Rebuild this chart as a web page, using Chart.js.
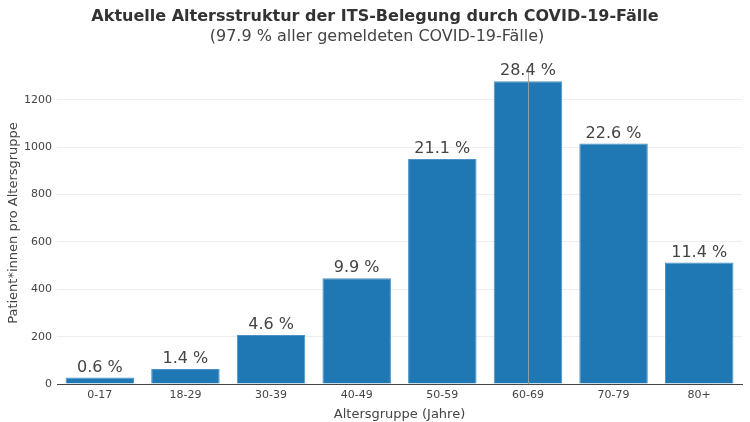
<!DOCTYPE html>
<html>
<head>
<meta charset="utf-8">
<script src="https://cdn.jsdelivr.net/npm/chart.js@4/dist/chart.umd.min.js"></script>
<style>
html,body{margin:0;padding:0;background:#fff;}
#wrap{width:750px;height:422px;}
</style>
</head>
<body>
<div id="wrap"><canvas id="c" width="750" height="422"></canvas></div>
<script>
const categories = ["0-17","18-29","30-39","40-49","50-59","60-69","70-79","80+"];
const patients = [27, 63, 207, 447, 950, 1279, 1016, 513];
const shares = ["0.6 %","1.4 %","4.6 %","9.9 %","21.1 %","28.4 %","22.6 %","11.4 %"];
const yTicks = [0,200,400,600,800,1000,1200];
const spikeCategory = "60-69";
const titleText = 'Aktuelle Altersstruktur der ITS-Belegung durch COVID-19-Fälle';
const subtitleText = '(97.9 % aller gemeldeten COVID-19-Fälle)';

const FONT = "'DejaVu Sans', Verdana, sans-serif";

const labelPlugin = {
  id: 'barLabels',
  afterDraw(chart) {
    const ctx = chart.ctx;
    ctx.save();
    ctx.textAlign = 'center';
    ctx.textBaseline = 'middle';
    ctx.fillStyle = '#333';
    ctx.font = "bold 16px " + FONT;
    ctx.fillText(titleText, 375, 17);
    ctx.fillStyle = '#444';
    ctx.font = "16px " + FONT;
    ctx.fillText(subtitleText, 377, 37);
    ctx.restore();
  },
  afterDatasetsDraw(chart) {
    const ctx = chart.ctx;
    const meta = chart.getDatasetMeta(0);
    ctx.save();
    const idx = categories.indexOf(spikeCategory);
    if (idx >= 0) {
      const x = chart.scales.x.getPixelForValue(idx);
      ctx.strokeStyle = 'rgba(160,160,160,0.9)';
      ctx.lineWidth = 1;
      ctx.beginPath();
      ctx.moveTo(Math.round(x)+0.5, chart.chartArea.top + 4);
      ctx.lineTo(Math.round(x)+0.5, chart.chartArea.bottom);
      ctx.stroke();
    }
    ctx.font = "16px " + FONT;
    ctx.fillStyle = '#444';
    ctx.textAlign = 'center';
    ctx.textBaseline = 'bottom';
    meta.data.forEach((bar, i) => {
      ctx.fillText(shares[i], bar.x, bar.y - 2);
    });
    ctx.restore();
  }
};

new Chart(document.getElementById('c'), {
  type: 'bar',
  data: {
    labels: categories,
    datasets: [{
      data: patients,
      backgroundColor: '#1f77b4',
      borderColor: '#4b93c6',
      borderWidth: 1,
      categoryPercentage: 0.8,
      barPercentage: 1.0
    }]
  },
  options: {
    responsive: false,
    animation: false,
    devicePixelRatio: 1,
    layout: { padding: { left: 0, right: 8, top: 62, bottom: 0 } },
    plugins: {
      legend: { display: false },
      tooltip: { enabled: false },
      title: { display: false },
      subtitle: { display: false }
    },
    scales: {
      x: {
        afterFit(scale) { scale.height = 38; },
        grid: { display: false, drawTicks: false },
        border: { display: true, color: '#444', width: 1 },
        ticks: { color: '#444', font: { family: FONT, size: 11 }, padding: 5 },
        title: { display: true, text: 'Altersgruppe (Jahre)', color: '#444', font: { family: FONT, size: 13 }, padding: { top: 1, bottom: 0 } }
      },
      y: {
        min: 0,
        max: 1360,
        afterFit(scale) { scale.width = 57; },
        afterBuildTicks(scale) { scale.ticks = yTicks.map(v => ({ value: v })); },
        grid: { color: '#eeeeee', drawTicks: false },
        border: { display: false },
        ticks: { color: '#444', font: { family: FONT, size: 11 }, padding: 5, callback: v => String(v) },
        title: { display: true, text: 'Patient*innen pro Altersgruppe', color: '#444', font: { family: FONT, size: 13 }, padding: { top: 6, bottom: 0 } }
      }
    }
  },
  plugins: [labelPlugin]
});
</script>
</body>
</html>
